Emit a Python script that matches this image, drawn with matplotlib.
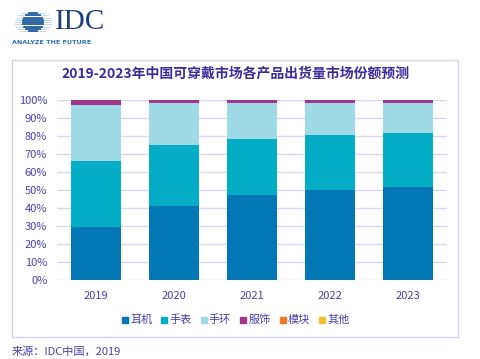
import numpy as np
import matplotlib
matplotlib.use('Agg')
import matplotlib.pyplot as plt
from matplotlib.patches import Rectangle

plt.rcParams['font.family'] = ['Noto Sans CJK SC', 'DejaVu Sans']

# data (share of shipments, %)
years = ['2019', '2020', '2021', '2022', '2023']
earphone = [29.3, 41.3, 47.0, 49.8, 51.5]
watch = [36.7, 33.5, 31.3, 30.6, 30.0]
band = [31.4, 23.5, 20.2, 18.1, 17.0]
apparel = [2.4, 1.5, 1.3, 1.3, 1.3]
module = [0.1, 0.1, 0.1, 0.1, 0.1]
other = [0.1, 0.1, 0.1, 0.1, 0.1]

series = [('耳机', earphone, '#0277b6'),
          ('手表', watch, '#03adc6'),
          ('手环', band, '#9edbe6'),
          ('服饰', apparel, '#a03590'),
          ('模块', module, '#f47b20'),
          ('其他', other, '#f5c02c')]

text_col = '#4a3fae'
grid_col = '#dcd5f3'

fig = plt.figure(figsize=(4.8, 3.59), dpi=100)
ax = fig.add_axes([57 / 480, 1 - 280 / 359, 390 / 480, 180 / 359])

x = np.arange(len(years))
bottom = np.zeros(len(years))
for name, vals, col in series:
    ax.bar(x, vals, bottom=bottom, width=0.64, color=col, label=name, zorder=3)
    bottom += np.array(vals)

ax.set_xlim(-0.5, 4.5)
ax.set_ylim(0, 100)
ax.set_yticks(range(0, 101, 10))
ax.set_yticklabels([f'{v}%' for v in range(0, 101, 10)])
ax.set_xticks(x)
ax.set_xticklabels(years)
ax.tick_params(length=0, labelsize=8, labelcolor=text_col, pad=7)
ax.tick_params(axis='x', pad=8)
ax.grid(axis='y', color=grid_col, linewidth=1, zorder=0)
for s in ax.spines.values():
    s.set_visible(False)

# legend, drawn by hand so all labels share one baseline
leg_x = 125
leg_y = 1 - 320 / 359
for name, vals, col in series:
    fig.patches.append(Rectangle(((leg_x - 3) / 480, leg_y - 3 / 359), 6 / 480, 6 / 359,
                                 transform=fig.transFigure, color=col))
    fig.text((leg_x + 5) / 480, leg_y, name, fontsize=8, color=text_col,
             va='center', ha='left')
    leg_x += 39.4

fig.text(236 / 480, 1 - 74 / 359, '2019-2023年中国可穿戴市场各产品出货量市场份额预测',
         ha='center', va='center', fontsize=10, fontweight='bold', color='#3a2c9c')

# outer frame
fig.patches.append(Rectangle((12 / 480, 1 - 337 / 359), 446 / 480, 277 / 359,
                             transform=fig.transFigure, fill=False,
                             edgecolor='#d8d0f4', linewidth=1))

# IDC logo
fig.text(55 / 480, 1 - 22 / 359, 'IDC', family='Liberation Serif', fontsize=21,
         color='#1b3f7a', va='center', ha='left')
fig.text(12 / 480, 1 - 43 / 359, 'ANALYZE THE FUTURE', fontsize=4.6,
         color='#2f6fb0', va='center', ha='left', fontweight='bold', family='DejaVu Sans')
cx, cy, r = 33, 22, 10
for yy in np.linspace(cy - 9, cy + 9, 9):
    dy = abs(yy - cy)
    half = np.sqrt(max(r * r - dy * dy, 0))
    fig.add_artist(plt.Line2D([(cx - half - 8) / 480, (cx + half + 8) / 480],
                              [1 - yy / 359, 1 - yy / 359],
                              transform=fig.transFigure, color='#b9d3ec', linewidth=0.6))
    fig.add_artist(plt.Line2D([(cx - half) / 480, (cx + half) / 480],
                              [1 - yy / 359, 1 - yy / 359],
                              transform=fig.transFigure, color='#1f5c9e', linewidth=1.3))

fig.text(12 / 480, 1 - 351 / 359, '来源：IDC中国，2019', fontsize=8, color=text_col,
         va='center', ha='left')

fig.savefig('out.png', dpi=100)
